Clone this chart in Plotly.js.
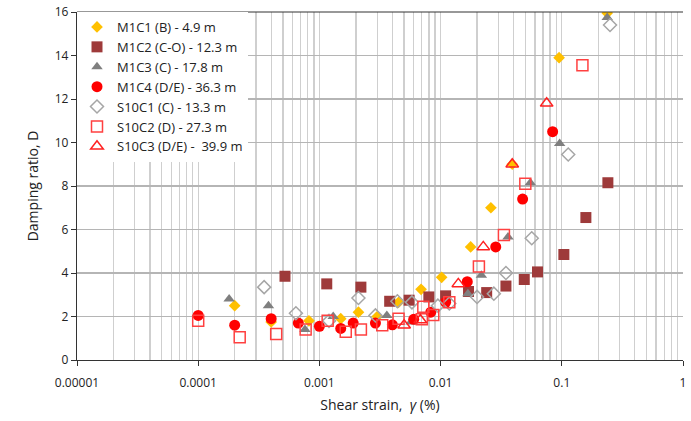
<!DOCTYPE html>
<html>
<head>
<meta charset="utf-8">
<script src="https://cdn.plot.ly/plotly-3.0.1.min.js"></script>
<style>html,body{margin:0;padding:0;background:#fff;}#chart{width:691px;height:421px;}</style>
</head>
<body>
<div id="chart"></div>
<script>
// Series names
const names = ["M1C1 (B) - 4.9 m","M1C2 (C-O) - 12.3 m","M1C3 (C) - 17.8 m","M1C4 (D/E) - 36.3 m","S10C1 (C) - 13.3 m","S10C2 (D) - 27.3 m","S10C3 (D/E) -  39.9 m"];

// M1C1
const m1c1_x = [0.0002,0.0004,0.00082,0.0015,0.0021,0.003,0.0045,0.0069,0.0102,0.0177,0.026,0.039,0.095,0.237];
const m1c1_d = [2.5,1.75,1.8,1.9,2.2,2.0,2.65,3.25,3.8,5.2,7.0,9.0,13.9,15.95];
// M1C2
const m1c2_x = [0.00052,0.00115,0.0022,0.0038,0.0055,0.008,0.011,0.017,0.024,0.0346,0.049,0.063,0.104,0.158,0.24];
const m1c2_d = [3.85,3.5,3.35,2.7,2.75,2.9,2.95,3.15,3.1,3.4,3.7,4.05,4.85,6.55,8.15];
// M1C3
const m1c3_x = [0.00018,0.00038,0.00076,0.0013,0.0036,0.0057,0.0168,0.0217,0.036,0.055,0.096,0.237];
const m1c3_d = [2.8,2.5,1.4,2.0,2.05,1.75,3.05,3.9,5.65,8.15,9.95,15.75];
// M1C4
const m1c4_x = [0.0001,0.0002,0.0004,0.00067,0.001,0.0015,0.0019,0.0029,0.004,0.006,0.0083,0.011,0.0166,0.0285,0.0475,0.084];
const m1c4_d = [2.05,1.6,1.9,1.7,1.55,1.45,1.7,1.7,1.62,1.87,2.2,2.65,3.6,5.2,7.4,10.5];
// S10C1
const s10c1_x = [0.00035,0.00064,0.0012,0.0021,0.0029,0.0044,0.0058,0.0095,0.0118,0.02,0.0275,0.0346,0.0565,0.113,0.25];
const s10c1_d = [3.35,2.15,1.8,2.85,2.05,2.7,2.65,2.5,2.6,2.9,3.05,4.0,5.6,9.45,15.4];
// S10C2
const s10c2_x = [0.0001,0.00022,0.00044,0.00077,0.00117,0.00165,0.0022,0.0033,0.0045,0.007,0.0072,0.0087,0.0118,0.0207,0.0333,0.05,0.148];
const s10c2_d = [1.8,1.05,1.2,1.4,1.8,1.3,1.4,1.6,1.9,1.87,2.45,2.07,2.65,4.3,5.75,8.1,13.55];
// S10C3
const s10c3_x = [0.005,0.0068,0.014,0.0225,0.039,0.075];
const s10c3_d = [1.6,1.84,3.5,5.2,9.0,11.8];

const xTickVals = [0.00001,0.0001,0.001,0.01,0.1,1];
const xTickText = ["0.00001","0.0001","0.001","0.01","0.1","1"];

const traces = [
  {x:m1c1_x,y:m1c1_d,name:names[0],mode:"markers",type:"scatter",
   marker:{symbol:"diamond",size:9,color:"#FFC000",line:{width:0}}},
  {x:m1c2_x,y:m1c2_d,name:names[1],mode:"markers",type:"scatter",
   marker:{symbol:"square",size:11,color:"#9E3A3A",line:{width:0}}},
  {x:m1c3_x,y:m1c3_d,name:names[2],mode:"markers",type:"scatter",
   marker:{symbol:"triangle-up",size:10,color:"#7F7F7F",line:{width:0}}},
  {x:m1c4_x,y:m1c4_d,name:names[3],mode:"markers",type:"scatter",
   marker:{symbol:"circle",size:11,color:"#FF0000",line:{width:0}}},
  {x:s10c1_x,y:s10c1_d,name:names[4],mode:"markers",type:"scatter",
   marker:{symbol:"diamond-open",size:10,color:"#A6A6A6",line:{width:1.5}}},
  {x:s10c2_x,y:s10c2_d,name:names[5],mode:"markers",type:"scatter",
   marker:{symbol:"square-open",size:11,color:"#FF4040",line:{width:1.5}}},
  {x:s10c3_x,y:s10c3_d,name:names[6],mode:"markers",type:"scatter",
   marker:{symbol:"triangle-up-open",size:11,color:"#FF2020",line:{width:1.5}}}
];

const font = "'Open Sans', sans-serif";
const layout = {
  width:691,height:421,
  margin:{l:77,r:8,t:12,b:61},
  paper_bgcolor:"#fff",plot_bgcolor:"#fff",
  font:{family:font,size:12,color:"#222"},
  showlegend:true,
  legend:{x:0,y:1,xanchor:"left",yanchor:"top",bgcolor:"#fff",borderwidth:0,
          font:{family:font,size:13,color:"#222"},tracegroupgap:0,itemwidth:30},
  xaxis:{type:"log",range:[-5,0],tickvals:xTickVals,ticktext:xTickText,
         showgrid:true,gridcolor:"#cfcfcf",gridwidth:1.3,
         minor:{dtick:"D1",showgrid:true,gridcolor:"#cfcfcf",gridwidth:1.3,ticks:""},
         showline:true,linecolor:"#333",linewidth:1.2,ticks:"outside",ticklen:5,tickcolor:"#333",
         ticklabelstandoff:6,
         zeroline:false,tickfont:{size:12},
         title:{text:"Shear strain,  <i>γ</i> (%)",font:{size:14},standoff:10}},
  yaxis:{range:[0,16],dtick:2,tick0:0,showgrid:true,gridcolor:"#b5b5b5",gridwidth:1.3,
         showline:true,linecolor:"#333",linewidth:1.2,ticks:"outside",ticklen:5,tickcolor:"#333",
         zeroline:false,tickfont:{size:12},
         title:{text:"Damping ratio, D",font:{size:14},standoff:12}},
  shapes:[{type:"line",xref:"paper",yref:"paper",x0:0,x1:1,y0:1,y1:1,line:{color:"#333",width:1.2}}]
};

Plotly.newPlot("chart",traces,layout,{displayModeBar:false,staticPlot:true});
</script>
</body>
</html>
